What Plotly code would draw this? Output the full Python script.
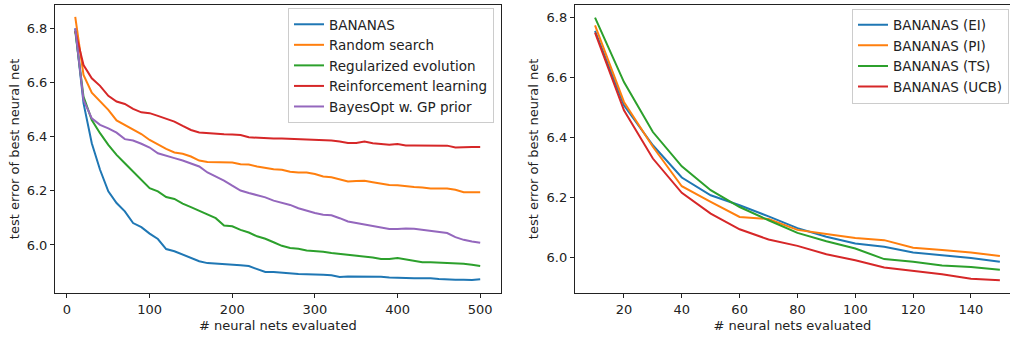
import plotly.graph_objects as go

# ---------------- data: left panel ----------------
evals_left = list(range(10, 501, 10))

bananas = [6.800, 6.524, 6.376, 6.278, 6.198, 6.155, 6.124, 6.081, 6.066, 6.042,
           6.022, 5.985, 5.977, 5.964, 5.952, 5.940, 5.933, 5.931, 5.930, 5.929,
           5.925, 5.922, 5.911, 5.900, 5.900, 5.897, 5.895, 5.893, 5.892, 5.892,
           5.890, 5.888, 5.882, 5.884, 5.884, 5.884, 5.884, 5.883, 5.880, 5.879,
           5.876, 5.877, 5.877, 5.877, 5.874, 5.872, 5.872, 5.872, 5.871, 5.873]

random_search = [6.843, 6.628, 6.563, 6.530, 6.499, 6.460, 6.444, 6.429, 6.410, 6.388,
                 6.370, 6.355, 6.342, 6.337, 6.327, 6.312, 6.307, 6.306, 6.307, 6.305,
                 6.298, 6.297, 6.290, 6.285, 6.280, 6.278, 6.271, 6.268, 6.268, 6.262,
                 6.253, 6.250, 6.243, 6.235, 6.236, 6.237, 6.232, 6.227, 6.222, 6.221,
                 6.217, 6.214, 6.212, 6.209, 6.209, 6.209, 6.204, 6.195, 6.195, 6.195]

reg_evolution = [6.790, 6.548, 6.462, 6.413, 6.370, 6.333, 6.302, 6.271, 6.241, 6.210,
                 6.198, 6.177, 6.170, 6.153, 6.140, 6.126, 6.112, 6.099, 6.072, 6.069,
                 6.056, 6.046, 6.032, 6.023, 6.010, 5.997, 5.989, 5.986, 5.980, 5.978,
                 5.975, 5.970, 5.967, 5.963, 5.961, 5.958, 5.954, 5.948, 5.948, 5.952,
                 5.947, 5.940, 5.936, 5.936, 5.935, 5.933, 5.932, 5.931, 5.927, 5.922]

reinforcement = [6.790, 6.665, 6.616, 6.588, 6.551, 6.530, 6.521, 6.503, 6.490, 6.487,
                 6.477, 6.466, 6.456, 6.440, 6.425, 6.416, 6.413, 6.410, 6.409, 6.408,
                 6.406, 6.398, 6.396, 6.394, 6.393, 6.393, 6.392, 6.391, 6.388, 6.388,
                 6.387, 6.386, 6.382, 6.377, 6.377, 6.382, 6.376, 6.373, 6.370, 6.373,
                 6.368, 6.368, 6.368, 6.368, 6.368, 6.367, 6.360, 6.362, 6.362, 6.362]

bayesopt_gp = [6.800, 6.536, 6.468, 6.444, 6.431, 6.415, 6.391, 6.386, 6.374, 6.360,
               6.339, 6.331, 6.321, 6.312, 6.302, 6.290, 6.268, 6.253, 6.238, 6.219,
               6.201, 6.192, 6.183, 6.176, 6.164, 6.157, 6.148, 6.136, 6.126, 6.118,
               6.112, 6.110, 6.099, 6.087, 6.081, 6.075, 6.071, 6.065, 6.059, 6.059,
               6.061, 6.060, 6.056, 6.054, 6.048, 6.044, 6.029, 6.019, 6.013, 6.008]

# ---------------- data: right panel ----------------
evals_right = list(range(10, 151, 10))

acq_ei = [6.754, 6.507, 6.374, 6.267, 6.208, 6.175, 6.138, 6.099, 6.070, 6.048,
          6.037, 6.018, 6.009, 6.000, 5.987]
acq_pi = [6.772, 6.518, 6.369, 6.238, 6.186, 6.136, 6.129, 6.093, 6.079, 6.066,
          6.059, 6.034, 6.026, 6.018, 6.006]
acq_ts = [6.798, 6.584, 6.418, 6.304, 6.225, 6.169, 6.125, 6.083, 6.055, 6.031,
          5.996, 5.987, 5.975, 5.970, 5.961]
acq_ucb = [6.748, 6.490, 6.330, 6.216, 6.147, 6.095, 6.061, 6.040, 6.012, 5.992,
           5.968, 5.956, 5.946, 5.931, 5.926]

left_names = ["BANANAS", "Random search", "Regularized evolution",
              "Reinforcement learning", "BayesOpt w. GP prior"]
right_names = ["BANANAS (EI)", "BANANAS (PI)", "BANANAS (TS)", "BANANAS (UCB)"]

left_ticks = [0, 100, 200, 300, 400, 500]
right_ticks = [20, 40, 60, 80, 100, 120, 140]
y_ticks = [6.0, 6.2, 6.4, 6.6, 6.8]

colors = ["#1f77b4", "#ff7f0e", "#2ca02c", "#d62728", "#9467bd"]

FONT = "DejaVu Sans"
W, H = 1010, 337

fig = go.Figure()

for name, ys, c in zip(left_names,
                       [bananas, random_search, reg_evolution, reinforcement, bayesopt_gp],
                       colors):
    fig.add_trace(go.Scatter(x=evals_left, y=ys, mode="lines", name=name,
                             line=dict(color=c, width=2),
                             xaxis="x", yaxis="y", legend="legend"))

for name, ys, c in zip(right_names, [acq_ei, acq_pi, acq_ts, acq_ucb], colors):
    fig.add_trace(go.Scatter(x=evals_right, y=ys, mode="lines", name=name,
                             line=dict(color=c, width=2),
                             xaxis="x2", yaxis="y2", legend="legend2"))

axis_common = dict(showline=True, linecolor="#222222", linewidth=1,
                   ticks="outside", ticklen=4, tickwidth=1, tickcolor="#222222",
                   showgrid=False, zeroline=False, automargin=False,
                   tickfont=dict(family=FONT, size=13, color="#222222"),
                   title_font=dict(family=FONT, size=13, color="#222222"))

y_dom = [1 - 293.3 / H, 1 - 4.5 / H]

fig.update_layout(
    width=W, height=H,
    margin=dict(l=0, r=0, t=0, b=0, autoexpand=False),
    paper_bgcolor="white", plot_bgcolor="white",
    font=dict(family=FONT, size=13, color="#222222"),
    xaxis=dict(domain=[55 / W, 500.7 / W], range=[-14.5, 524.8],
               tickvals=left_ticks, mirror=True,
               title=dict(text="# neural nets evaluated", standoff=4),
               anchor="y", **axis_common),
    yaxis=dict(domain=y_dom, range=[5.8215, 6.8885],
               tickvals=y_ticks, tickformat=".1f", mirror=True,
               title=dict(text="test error of best neural net", standoff=4),
               anchor="x", **axis_common),
    xaxis2=dict(domain=[574.8 / W, 1.0], range=[3, 153.5],
                tickvals=right_ticks, mirror=True,
                title=dict(text="# neural nets evaluated", standoff=4),
                anchor="y2", **axis_common),
    yaxis2=dict(domain=y_dom, range=[5.8824, 6.8416],
                tickvals=y_ticks, tickformat=".1f", mirror=False,
                title=dict(text="test error of best neural net", standoff=4),
                anchor="x2", **axis_common),
    legend=dict(x=494 / W, xanchor="right", y=1 - 8 / H, yanchor="top",
                bgcolor="rgba(255,255,255,0.85)", bordercolor="#cccccc", borderwidth=1,
                font=dict(family=FONT, size=13.5, color="#222222")),
    legend2=dict(x=1009 / W, xanchor="right", y=1 - 8.5 / H, yanchor="top",
                 bgcolor="rgba(255,255,255,0.85)", bordercolor="#cccccc", borderwidth=1,
                 font=dict(family=FONT, size=13.5, color="#222222")),
    showlegend=True,
)

fig.write_html("out.html",
               config={"displayModeBar": False},
               post_script="document.body.style.margin='0px';document.body.style.overflow='hidden';")
